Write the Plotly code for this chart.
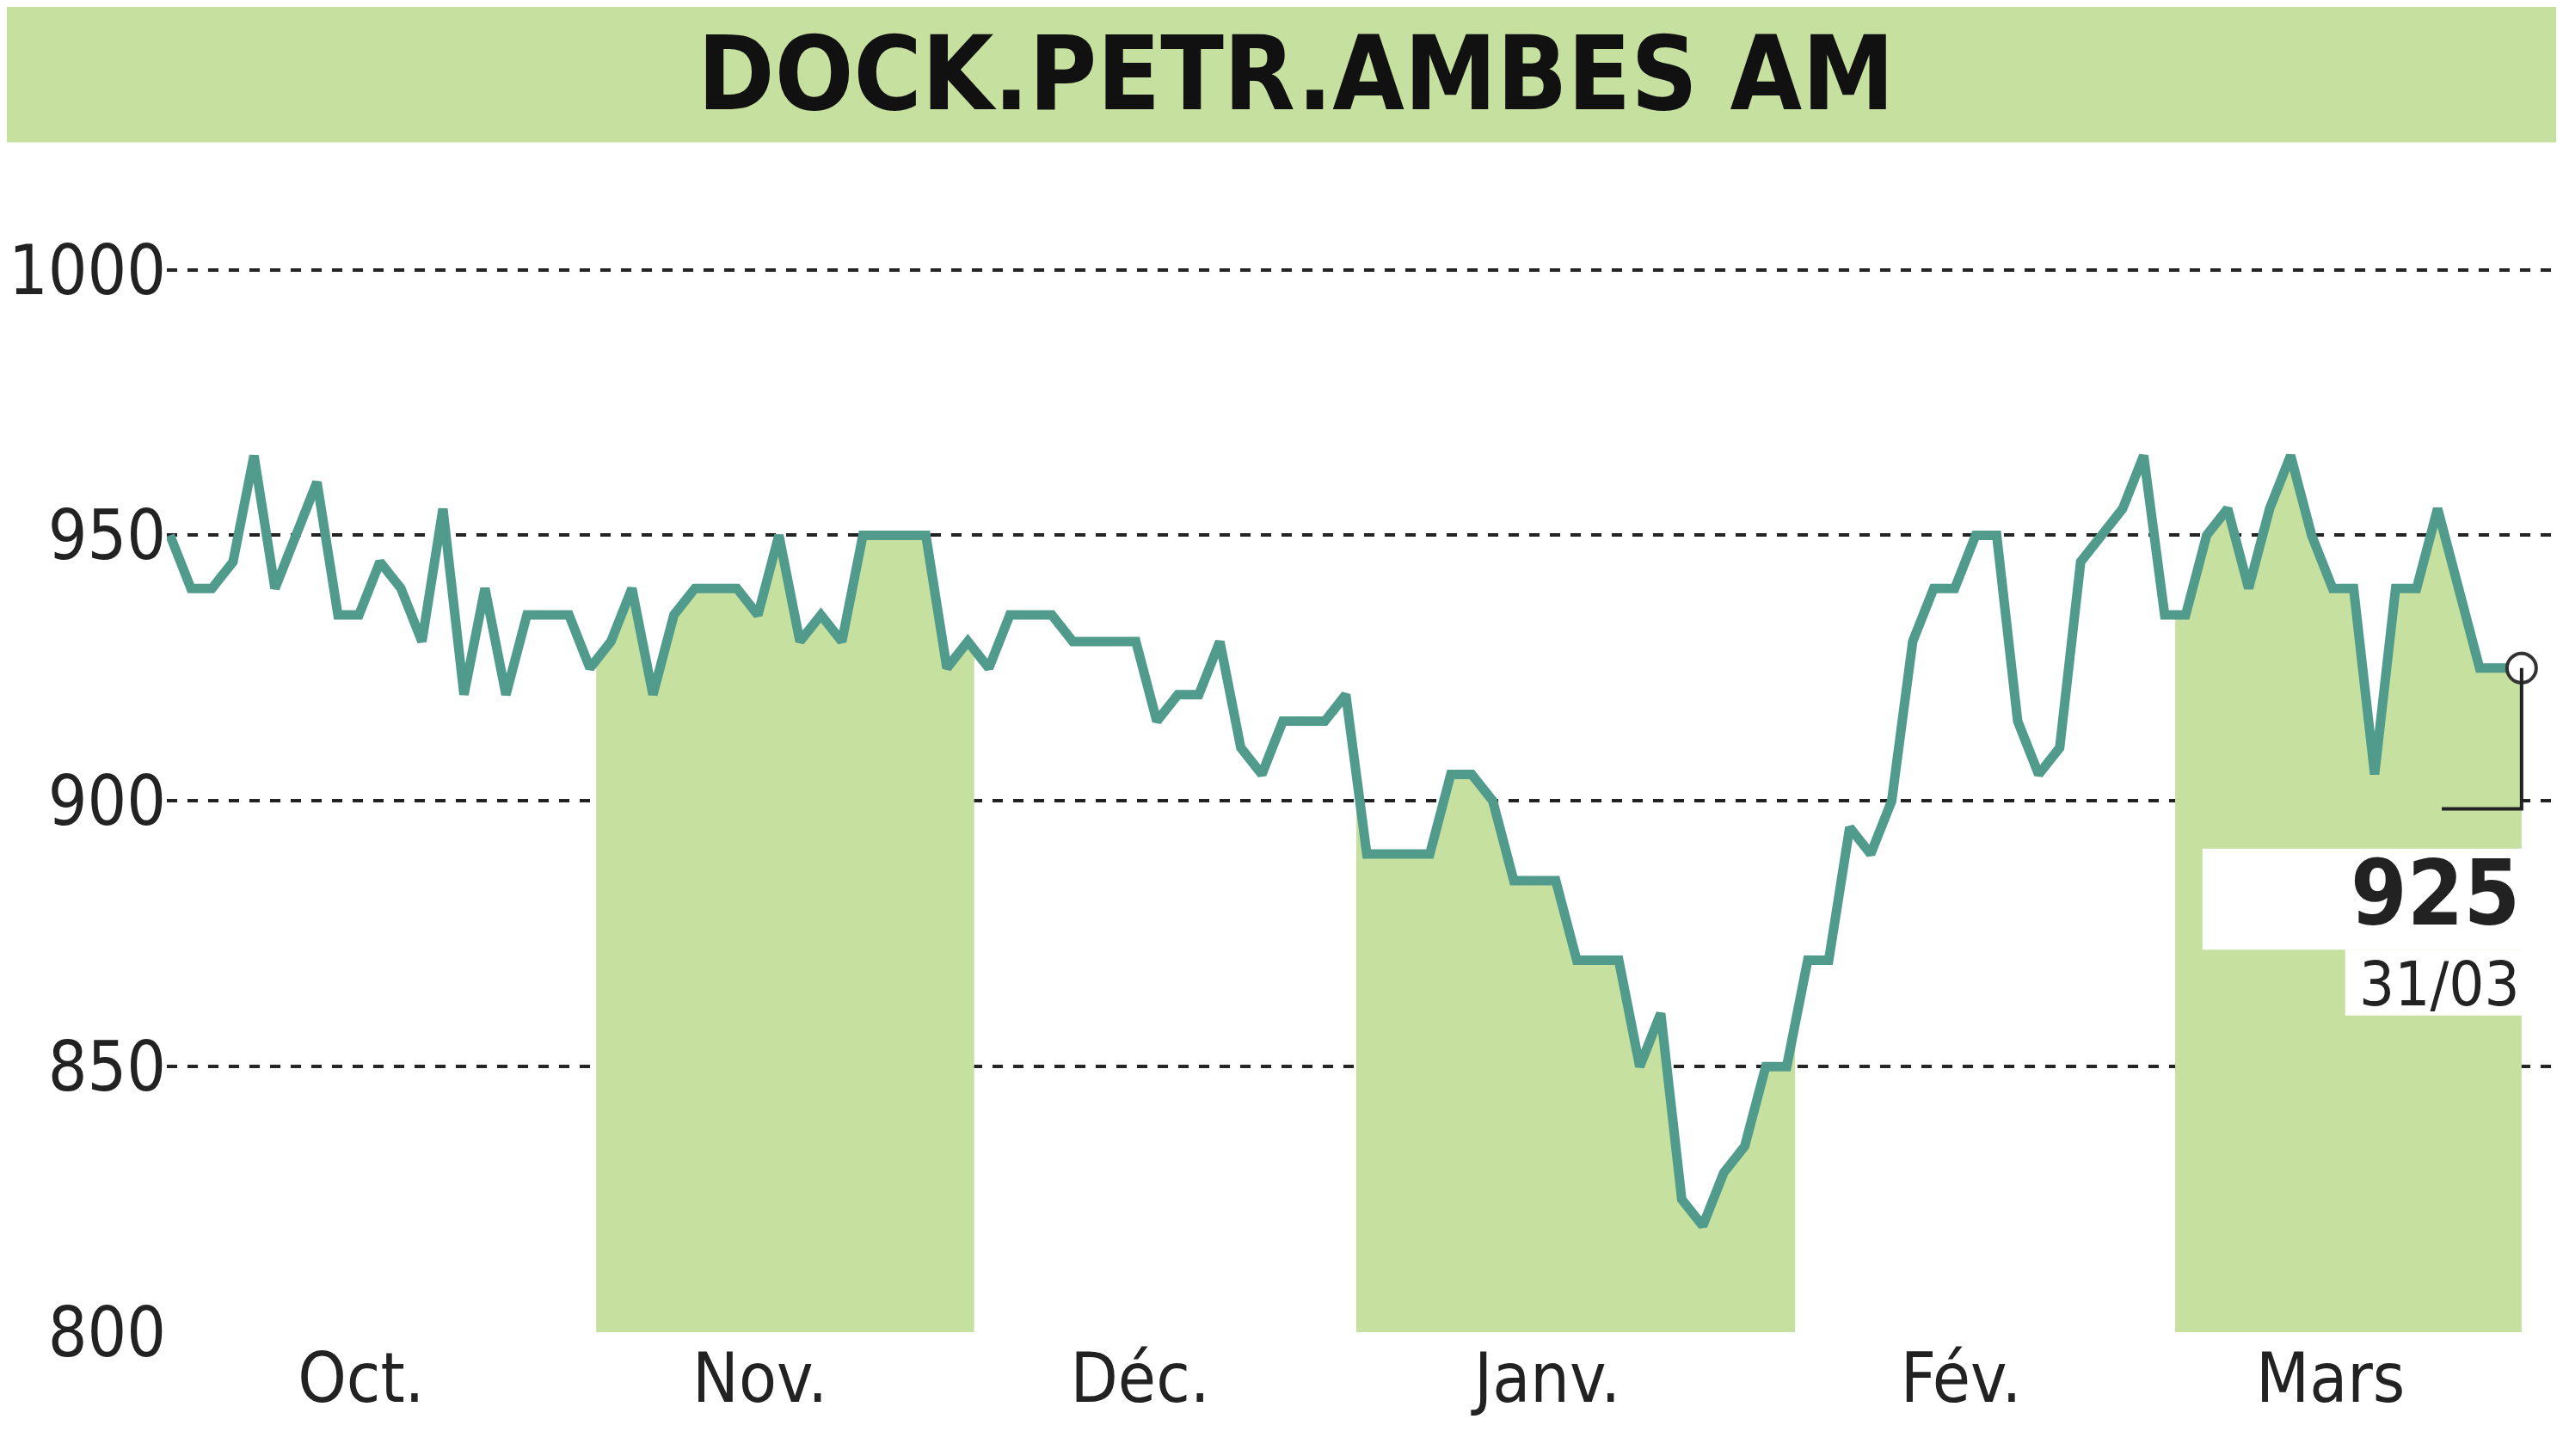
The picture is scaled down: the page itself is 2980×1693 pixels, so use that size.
import plotly.graph_objects as go

values = [950,940,940,945,965,940,950,960,935,935,945,940,930,955,920,940,920,935,935,935,
          925,930,940,920,935,940,940,940,935,950,930,935,930,950,950,950,950,925,930,925,
          935,935,935,930,930,930,930,915,920,920,930,910,905,915,915,915,920,890,890,890,
          890,905,905,900,885,885,885,870,870,870,850,860,825,820,830,835,850,850,870,870,
          895,890,900,930,940,940,950,950,915,905,910,945,950,955,965,935,935,950,955,940,
          955,965,950,940,940,905,940,940,955,940,925,925,925]
month_labels = ["Oct.", "Nov.", "Déc.", "Janv.", "Fév.", "Mars"]
month_pos = [9.1, 28.1, 46.2, 65.6, 85.3, 102.9]
shaded = [(20.3, 38.3), (56.5, 77.4), (95.5, 112.5)]
y_ticks = [800, 850, 900, 950, 1000]
last_value, last_date = "925", "31/03"

x = list(range(len(values)))
line_c = "#519b8c"; fill_c = "#c6e0a0"
FONT = "DejaVu Sans Condensed, DejaVu Sans, sans-serif"

def interp(xx):
    i = int(xx); f = xx - i
    if i + 1 >= len(values): return values[-1]
    return values[i] + (values[i+1]-values[i])*f

fig = go.Figure()
for a, b in shaded:
    b = min(b, len(values)-1)
    xs = [a] + [i for i in x if a < i < b] + [b]
    ys = [interp(v) for v in xs]
    fig.add_trace(go.Scatter(x=xs, y=ys, fill="tozeroy", fillcolor=fill_c, mode="none",
                             hoverinfo="skip", showlegend=False))
fig.add_trace(go.Scatter(x=x, y=values, mode="lines", line=dict(color=line_c, width=11),
                         showlegend=False))
lx = len(values)-1
fig.add_trace(go.Scatter(x=[lx], y=[values[-1]], mode="markers",
                         marker=dict(size=34, color="white", line=dict(color="#333", width=4)),
                         showlegend=False))

shapes = [
    dict(type="rect", xref="paper", yref="paper", x0=-0.08, x1=1.01, y0=1.018, y1=1.16,
         fillcolor=fill_c, line_width=0, layer="below"),
    dict(type="rect", x0=96.8, x1=lx+0.1, y0=872, y1=891, fillcolor="white", line_width=0),
    dict(type="rect", x0=103.6, x1=lx+0.1, y0=859.6, y1=872, fillcolor="white", line_width=0),
    dict(type="path", path=f"M {lx} {values[-1]} L {lx} 898.5 L 108.2 898.5",
         line=dict(color="#222", width=4)),
]
fig.update_layout(
    width=2980, height=1693, plot_bgcolor="white", paper_bgcolor="white",
    margin=dict(l=186, r=0, t=182, b=152), shapes=shapes,
    xaxis=dict(range=[-0.15, 114.3], tickvals=month_pos, ticktext=month_labels, showgrid=False,
               zeroline=False, showline=False, ticks="",
               tickfont=dict(family=FONT, size=80, color="#222")),
    yaxis=dict(range=[800, 1020], tickvals=y_ticks, showgrid=True, griddash="dash",
               gridcolor="#222", gridwidth=4, zeroline=False, showline=False, ticks="",
               tickfont=dict(family=FONT, size=80, color="#222")),
    annotations=[
        dict(text="<b>DOCK.PETR.AMBES AM</b>", xref="paper", yref="paper", x=0.47, y=1.077,
             yanchor="middle", showarrow=False, font=dict(family=FONT, size=120, color="#111")),
        dict(text="<b>"+last_value+"</b>", x=lx, y=882.5, xanchor="right", yanchor="middle",
             showarrow=False, font=dict(family=FONT, size=105, color="#222")),
        dict(text=last_date, x=lx, y=865.5, xanchor="right", yanchor="middle", showarrow=False,
             font=dict(family=FONT, size=72, color="#222")),
    ],
)
fig.write_html("out.html")
